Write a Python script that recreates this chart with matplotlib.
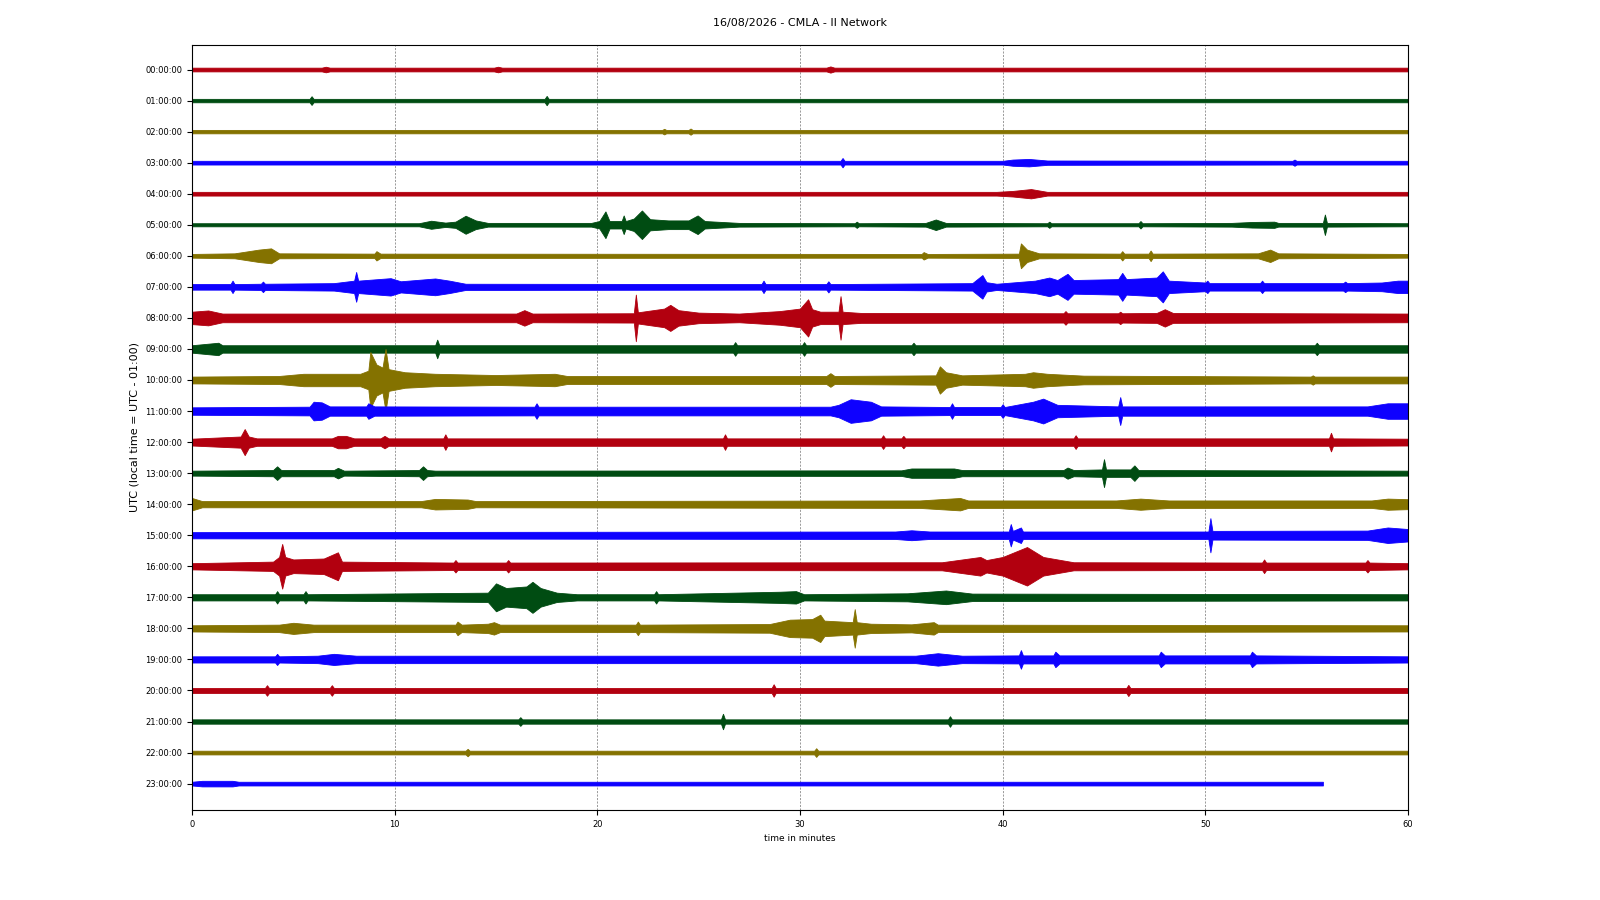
import matplotlib
matplotlib.use("Agg")
import matplotlib.pyplot as plt
import numpy as np

TITLE = "16/08/2026 - CMLA - II Network"
YLABEL = "UTC (local time = UTC - 01:00)"
XLABEL = "time in minutes"
hour_labels = ["%02d:00:00" % h for h in range(24)]
trace_colors = ["#B2000F", "#004C12", "#847200", "#0E01FF"]
x_ticks = [0, 10, 20, 30, 40, 50, 60]

# envelope (minute, half-amplitude in row units) read from the helicorder
env_00 = [(0,0.06),(6.4,0.06),(6.6,0.09),(6.8,0.06),(14.9,0.06),(15.1,0.09),(15.3,0.06),(31.3,0.06),(31.5,0.1),(31.7,0.06),(60,0.06)]
env_01 = [(0,0.055),(5.8,0.055),(5.9,0.14),(6.0,0.055),(17.4,0.055),(17.5,0.15),(17.6,0.055),(60,0.055)]
env_02 = [(0,0.055),(23.2,0.055),(23.3,0.09),(23.4,0.055),(24.5,0.055),(24.6,0.1),(24.7,0.055),(60,0.055)]
env_03 = [(0,0.06),(32.0,0.06),(32.1,0.15),(32.2,0.06),(40.0,0.06),(40.5,0.1),(41.3,0.12),(42.2,0.07),(54.3,0.06),(54.4,0.1),(54.5,0.06),(60,0.06)]
env_04 = [(0,0.06),(39.7,0.06),(40.5,0.09),(41.4,0.15),(42.2,0.06),(60,0.06)]
env_05 = [(0,0.05),(11.2,0.05),(11.8,0.13),(12.5,0.07),(13.0,0.1),(13.5,0.29),(14.0,0.14),(14.6,0.06),(19.7,0.06),(20.1,0.12),(20.4,0.43),(20.6,0.12),(21.2,0.12),(21.3,0.3),(21.4,0.12),(21.8,0.2),(22.2,0.46),(22.6,0.18),(23.5,0.14),(24.5,0.14),(24.95,0.3),(25.3,0.12),(27,0.06),(32.7,0.05),(32.8,0.1),(32.9,0.05),(36.2,0.06),(36.7,0.17),(37.2,0.06),(42.2,0.05),(42.3,0.1),(42.4,0.05),(46.7,0.05),(46.8,0.12),(46.9,0.05),(51.3,0.06),(52.3,0.09),(53.4,0.1),(53.6,0.06),(55.8,0.06),(55.9,0.33),(56.0,0.06),(60,0.05)]
env_06 = [(0,0.06),(2.1,0.08),(3.3,0.2),(3.9,0.24),(4.3,0.08),(9.0,0.07),(9.1,0.15),(9.3,0.07),(36.0,0.06),(36.1,0.12),(36.3,0.06),(40.8,0.07),(40.9,0.4),(41.2,0.2),(41.8,0.08),(45.8,0.07),(45.9,0.15),(46.0,0.07),(47.2,0.07),(47.3,0.17),(47.4,0.07),(52.6,0.08),(53.2,0.2),(53.6,0.08),(60,0.06)]
env_07 = [(0,0.09),(1.9,0.09),(2.0,0.2),(2.1,0.09),(3.4,0.1),(3.5,0.17),(3.6,0.1),(7.0,0.12),(8.0,0.2),(8.1,0.48),(8.2,0.2),(9.8,0.28),(10.3,0.18),(12.0,0.27),(12.7,0.2),(13.5,0.1),(28.1,0.09),(28.2,0.2),(28.3,0.09),(31.3,0.09),(31.4,0.18),(31.5,0.09),(38.5,0.12),(39.0,0.38),(39.2,0.15),(39.7,0.1),(41.6,0.2),(42.3,0.3),(42.7,0.22),(43.2,0.42),(43.5,0.22),(45.7,0.25),(45.9,0.45),(46.1,0.25),(47.6,0.3),(47.9,0.5),(48.2,0.2),(50.0,0.14),(50.1,0.2),(50.2,0.12),(52.7,0.12),(52.8,0.2),(52.9,0.12),(56.8,0.12),(56.9,0.17),(57.0,0.12),(58.7,0.14),(59.5,0.2),(60,0.2)]
env_08 = [(0,0.2),(0.8,0.24),(1.5,0.14),(16.0,0.14),(16.4,0.25),(16.8,0.14),(21.8,0.15),(21.9,0.75),(22.0,0.18),(23.3,0.3),(23.6,0.42),(24.0,0.25),(25.0,0.17),(27.0,0.14),(29.0,0.22),(30.0,0.3),(30.4,0.6),(30.6,0.28),(31.0,0.2),(31.9,0.2),(32.0,0.7),(32.1,0.2),(33.0,0.16),(43.0,0.15),(43.1,0.22),(43.2,0.15),(45.7,0.15),(45.8,0.2),(45.9,0.15),(47.6,0.16),(48.0,0.28),(48.4,0.16),(60,0.14)]
env_09 = [(0,0.12),(1.3,0.2),(1.5,0.12),(12.0,0.12),(12.1,0.3),(12.2,0.12),(26.7,0.12),(26.8,0.22),(26.9,0.12),(30.1,0.12),(30.2,0.22),(30.3,0.12),(35.5,0.12),(35.6,0.2),(35.7,0.12),(55.4,0.12),(55.5,0.2),(55.6,0.12),(60,0.12)]
env_10 = [(0,0.11),(4.3,0.13),(5.5,0.2),(8.3,0.2),(8.7,0.3),(8.8,0.9),(9.1,0.5),(9.4,0.4),(9.55,1.0),(9.7,0.35),(10.5,0.25),(12.0,0.2),(15.0,0.16),(17.9,0.2),(18.5,0.13),(31.3,0.13),(31.5,0.22),(31.7,0.13),(36.7,0.15),(36.9,0.44),(37.2,0.25),(38.0,0.15),(41.1,0.2),(41.5,0.25),(42.2,0.2),(44.0,0.14),(55.2,0.11),(55.3,0.15),(55.4,0.11),(60,0.11)]
env_11 = [(0,0.12),(5.8,0.14),(6.0,0.3),(6.4,0.28),(6.8,0.15),(8.6,0.15),(8.7,0.25),(9.0,0.15),(16.9,0.14),(17.0,0.25),(17.1,0.14),(31.5,0.14),(31.9,0.2),(32.5,0.38),(33.5,0.3),(34.0,0.15),(37.4,0.13),(37.5,0.25),(37.6,0.13),(39.9,0.13),(40.0,0.22),(40.1,0.13),(41.5,0.3),(42.0,0.4),(42.7,0.2),(45.7,0.15),(45.8,0.45),(45.9,0.15),(58.0,0.15),(59.0,0.25),(60,0.25)]
env_12 = [(0,0.11),(2.4,0.18),(2.6,0.42),(2.8,0.18),(3.2,0.12),(6.9,0.12),(7.2,0.2),(7.6,0.2),(8.0,0.12),(9.3,0.12),(9.5,0.2),(9.7,0.12),(12.4,0.12),(12.5,0.25),(12.6,0.12),(26.2,0.12),(26.3,0.25),(26.4,0.12),(34.0,0.12),(34.1,0.22),(34.2,0.12),(35.0,0.12),(35.1,0.2),(35.2,0.12),(43.5,0.12),(43.6,0.22),(43.7,0.12),(56.1,0.12),(56.2,0.3),(56.3,0.12),(60,0.11)]
env_13 = [(0,0.08),(4.0,0.1),(4.2,0.22),(4.4,0.1),(7.0,0.1),(7.2,0.17),(7.5,0.08),(11.2,0.1),(11.4,0.22),(11.6,0.1),(12.0,0.08),(35.0,0.09),(35.5,0.15),(37.6,0.15),(38.0,0.1),(43.0,0.1),(43.2,0.18),(43.5,0.1),(44.9,0.12),(45.0,0.45),(45.1,0.12),(46.3,0.12),(46.5,0.25),(46.7,0.1),(60,0.08)]
env_14 = [(0,0.2),(0.5,0.1),(11.3,0.1),(12.0,0.17),(13.6,0.15),(14.0,0.1),(35.9,0.12),(37.9,0.2),(38.3,0.12),(45.6,0.12),(46.8,0.18),(48.2,0.12),(58.2,0.12),(59.0,0.18),(60,0.16)]
env_15 = [(0,0.1),(34.7,0.12),(35.5,0.16),(36.4,0.12),(40.3,0.12),(40.4,0.36),(40.5,0.14),(40.9,0.25),(41.0,0.12),(50.15,0.12),(50.25,0.55),(50.35,0.14),(58.0,0.15),(59.0,0.25),(60,0.2)]
env_16 = [(0,0.1),(4.0,0.15),(4.3,0.3),(4.45,0.72),(4.6,0.3),(5.0,0.22),(6.5,0.25),(7.2,0.45),(7.4,0.15),(12.9,0.12),(13.0,0.2),(13.1,0.12),(15.5,0.12),(15.6,0.2),(15.7,0.12),(37.0,0.13),(38.9,0.3),(39.2,0.2),(40.0,0.3),(41.2,0.62),(42.0,0.3),(43.5,0.13),(52.8,0.12),(52.9,0.22),(53.0,0.12),(57.9,0.12),(58.0,0.2),(58.1,0.12),(60,0.1)]
env_17 = [(0,0.1),(4.1,0.1),(4.2,0.2),(4.3,0.1),(5.5,0.1),(5.6,0.2),(5.7,0.1),(14.6,0.15),(15.0,0.45),(15.5,0.3),(16.5,0.35),(16.8,0.5),(17.2,0.3),(18.0,0.15),(19.0,0.1),(22.8,0.1),(22.9,0.2),(23.0,0.1),(29.0,0.18),(29.8,0.2),(30.2,0.1),(35.3,0.13),(37.2,0.22),(38.5,0.12),(60,0.1)]
env_18 = [(0,0.1),(4.3,0.12),(5.0,0.18),(6.0,0.12),(13.0,0.12),(13.1,0.22),(13.3,0.12),(14.6,0.15),(14.9,0.2),(15.2,0.12),(21.9,0.12),(22.0,0.22),(22.1,0.12),(28.5,0.14),(29.5,0.28),(30.6,0.3),(31.0,0.44),(31.2,0.25),(32.6,0.2),(32.7,0.62),(32.8,0.2),(33.5,0.15),(35.5,0.13),(36.6,0.2),(36.8,0.12),(60,0.1)]
env_19 = [(0,0.1),(4.1,0.1),(4.2,0.18),(4.3,0.1),(6.2,0.12),(7.0,0.18),(8.1,0.12),(35.7,0.12),(36.8,0.2),(38.0,0.12),(40.8,0.13),(40.9,0.3),(41.0,0.13),(42.5,0.13),(42.6,0.25),(42.8,0.13),(47.7,0.13),(47.8,0.25),(48.0,0.13),(52.2,0.13),(52.3,0.25),(52.5,0.13),(60,0.1)]
env_20 = [(0,0.08),(3.6,0.08),(3.7,0.17),(3.8,0.08),(6.8,0.08),(6.9,0.17),(7.0,0.08),(28.6,0.08),(28.7,0.2),(28.8,0.08),(46.1,0.08),(46.2,0.18),(46.3,0.08),(60,0.08)]
env_21 = [(0,0.07),(16.1,0.07),(16.2,0.14),(16.3,0.07),(26.1,0.07),(26.2,0.25),(26.3,0.07),(37.3,0.07),(37.4,0.17),(37.5,0.07),(60,0.07)]
env_22 = [(0,0.06),(13.5,0.06),(13.6,0.12),(13.7,0.06),(30.7,0.06),(30.8,0.14),(30.9,0.06),(60,0.06)]
env_23 = [(0,0.06),(0.5,0.09),(2.0,0.09),(2.3,0.06),(55.8,0.06)]

envelopes = [env_00, env_01, env_02, env_03, env_04, env_05, env_06, env_07,
             env_08, env_09, env_10, env_11, env_12, env_13, env_14, env_15,
             env_16, env_17, env_18, env_19, env_20, env_21, env_22, env_23]

fig = plt.figure(figsize=(16, 9), dpi=100)
ax = fig.add_axes([0.12, 0.1, 0.76, 0.85])

for i, env in enumerate(envelopes):
    t = np.array([p[0] for p in env])
    a = np.array([p[1] for p in env])
    c = trace_colors[i % 4]
    ax.fill_between(t, i - a, i + a, color=c, lw=0.6, edgecolor=c)

ax.set_xlim(0, 60)
ax.set_ylim(23.85, -0.79)
ax.set_xticks(x_ticks)
ax.set_xticklabels([str(v) for v in x_ticks], fontsize=6)
ax.set_yticks(range(24))
ax.set_yticklabels(hour_labels, fontsize=6)
ax.grid(True, axis="x", color="0.45", linestyle=(0, (3, 2)), linewidth=0.5)
ax.set_axisbelow(True)
ax.set_xlabel(XLABEL, fontsize=6.5)
ax.set_ylabel(YLABEL, fontsize=8)
fig.text(0.5, 0.974, TITLE, ha="center", va="center", fontsize=8)

fig.savefig("out.png", dpi=100)
